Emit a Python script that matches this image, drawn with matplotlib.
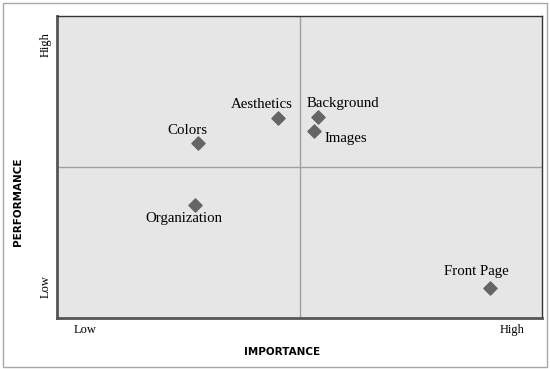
import matplotlib.pyplot as plt
from matplotlib.patches import Rectangle

# data (0-10 scale on both axes)
names = ['Aesthetics', 'Background', 'Images', 'Colors', 'Organization', 'Front Page']
importance = [4.56, 5.38, 5.30, 2.91, 2.85, 8.93]
performance = [6.62, 6.66, 6.19, 5.79, 3.74, 0.99]
# where each label sits relative to its marker (pixels)
offsets = [(-16, 14), (25, 13), (32, -7), (-11, 13), (-11, -13), (-14, 17)]

x_tick_pos = [0.58, 9.38]
y_tick_pos = [1.03, 9.04]
tick_labels = ['Low', 'High']

fig = plt.figure(figsize=(5.5, 3.69), dpi=100)
fig.patches.append(Rectangle((0.005, 0.006), 0.989, 0.987, transform=fig.transFigure,
                             fill=False, edgecolor='#a8a8a8', linewidth=1))

ax = fig.add_axes([0.1036, 0.1382, 0.882, 0.8184])
ax.set_facecolor('#e6e6e6')
ax.set_xlim(0, 10)
ax.set_ylim(0, 10)

# quadrant lines
ax.axvline(5, color='#a0a0a0', linewidth=1)
ax.axhline(5, color='#a0a0a0', linewidth=1)

ax.scatter(importance, performance, marker='D', s=45, color='#656565', zorder=3)
for name, x, y, (dx, dy) in zip(names, importance, performance, offsets):
    ax.annotate(name, (x, y), xytext=(dx, dy), textcoords='offset pixels',
                ha='center', va='center', fontsize=10.7, family='Liberation Serif')

ax.set_xticks(x_tick_pos)
ax.set_xticklabels(tick_labels, family='Liberation Serif', fontsize=9)
ax.set_yticks(y_tick_pos)
ax.set_yticklabels(tick_labels, family='Liberation Serif', fontsize=9,
                   rotation=90, va='center')
ax.tick_params(length=0, pad=4)

for side in ['left', 'bottom']:
    ax.spines[side].set_linewidth(2)
    ax.spines[side].set_color('#555555')
for side in ['top', 'right']:
    ax.spines[side].set_linewidth(1)
    ax.spines[side].set_color('#333333')

fig.text(0.033, 0.453, 'PERFORMANCE', rotation=90, ha='center', va='center',
         fontsize=7.5, fontweight='bold')
fig.text(0.513, 0.046, 'IMPORTANCE', ha='center', va='center',
         fontsize=7.5, fontweight='bold')

fig.savefig('out.png', dpi=100)
